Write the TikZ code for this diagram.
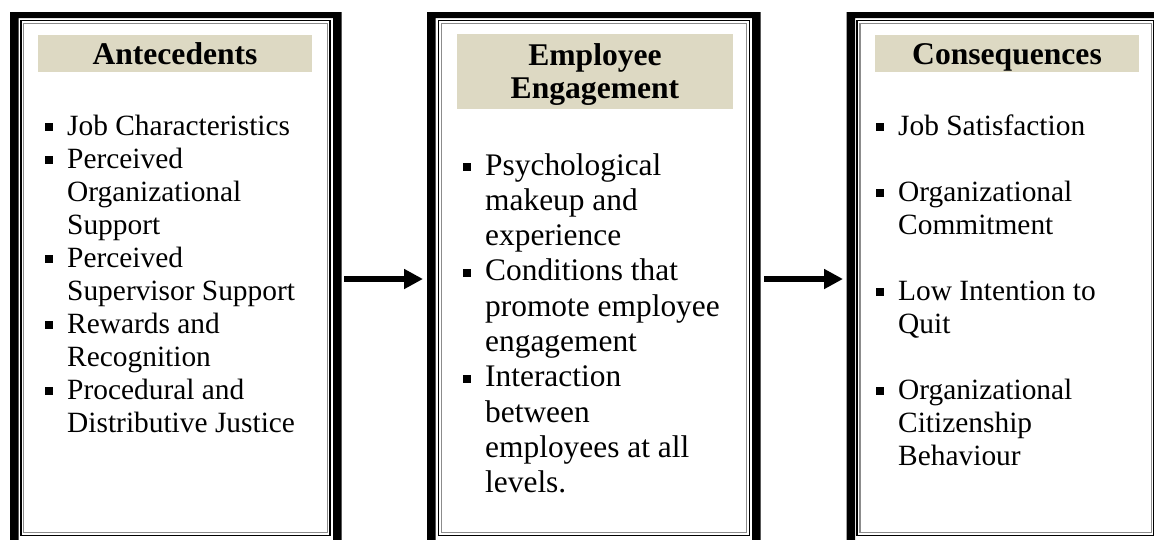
\documentclass[tikz,border=0pt]{standalone}
\usepackage{fontspec}
\setmainfont{Liberation Serif}
\usetikzlibrary{arrows.meta}
\definecolor{headfill}{HTML}{DDD9C3}
\definecolor{rulegray}{HTML}{8C8C8C}
\begin{document}
\begin{tikzpicture}[x=1pt,y=-1pt,
  heavyframe/.style={fill=black,even odd rule},
  outerrule/.style={draw=black,line width=1.2pt},
  innerrule/.style={draw=rulegray,line width=1.2pt},
  headband/.style={fill=headfill},
  headtext/.style={font=\fontsize{31.6}{33}\selectfont\bfseries,anchor=base,inner sep=0pt},
  itemtext/.style={font=\fontsize{29.4}{33}\selectfont,anchor=base west,inner sep=0pt},
  itemtextlarge/.style={font=\fontsize{31.4}{35}\selectfont,anchor=base west,inner sep=0pt},
  flow/.style={line width=6pt,-{Triangle[length=19pt,width=19pt]}}]
\useasboundingbox (0,0) rectangle (1154,539);
\clip (0,0) rectangle (1154,539);
\fill[white] (0,0) rectangle (1154,539);

% ---- frames: heavy outer band plus two thin rules ----
\fill[heavyframe] (10,12) rectangle (341.5,560) (18.5,18) rectangle (333,560);
\draw[outerrule] (21,20.5) rectangle (330,535.5);
\draw[innerrule] (23.5,23.5) rectangle (327.5,532.5);

\fill[heavyframe] (427,12) rectangle (760.5,560) (435.5,18) rectangle (752,560);
\draw[outerrule] (438.5,20.5) rectangle (749.5,535.5);
\draw[innerrule] (441.5,23.5) rectangle (746.5,532.5);

\fill[heavyframe] (846.5,12) rectangle (1175,560) (855,18) rectangle (1166,560);
\draw[outerrule] (857,20.5) rectangle (1154,535.5);
\draw[innerrule] (860,23.5) rectangle (1151.5,532.5);

% ---- headings ----
\fill[headband] (38,35) rectangle (312,72);
\node[headtext] (anteHead) at (175,64) {Antecedents};

\fill[headband] (457,34) rectangle (733,109);
\node[headtext] (engHeadA) at (595,65) {Employee};
\node[headtext] (engHeadB) at (595,98) {Engagement};

\fill[headband] (875,35) rectangle (1139,72);
\node[headtext] (consHead) at (1007,64) {Consequences};

% ---- antecedents list ----
\foreach \n/\t in {0/Job Characteristics,1/Perceived,2/Organizational,3/Support,
  4/Perceived,5/Supervisor Support,6/Rewards and,7/Recognition,
  8/Procedural and,9/Distributive Justice}
  \node[itemtext] (ante\n) at (67,{135+33*\n}) {\t};
\foreach \n in {0,1,4,6,8}
  \fill (45,{135+33*\n-12}) rectangle ++(8,8);

% ---- engagement list ----
\foreach \n/\t in {0/Psychological,1/makeup and,2/experience,3/Conditions that,
  4/promote employee,5/engagement,6/Interaction,7/between,
  8/employees at all,9/levels.}
  \node[itemtextlarge] (eng\n) at (485,{175+35.3*\n}) {\t};
\foreach \n in {0,3,6}
  \fill (463,{175+35.3*\n-12}) rectangle ++(8,8);

% ---- consequences list ----
\foreach \n/\t in {0/Job Satisfaction,2/Organizational,3/Commitment,
  5/Low Intention to,6/Quit,8/Organizational,9/Citizenship,10/Behaviour}
  \node[itemtext] (cons\n) at (898,{135+33*\n}) {\t};
\foreach \n in {0,2,5,8}
  \fill (876,{135+33*\n-12}) rectangle ++(8,8);

% ---- arrows between the frames ----
\coordinate (flowAstart) at (344,279);
\coordinate (flowAend) at (423,279);
\coordinate (flowBstart) at (764,279);
\coordinate (flowBend) at (843,279);
\draw[flow] (flowAstart) -- (flowAend);
\draw[flow] (flowBstart) -- (flowBend);
\end{tikzpicture}
\end{document}
